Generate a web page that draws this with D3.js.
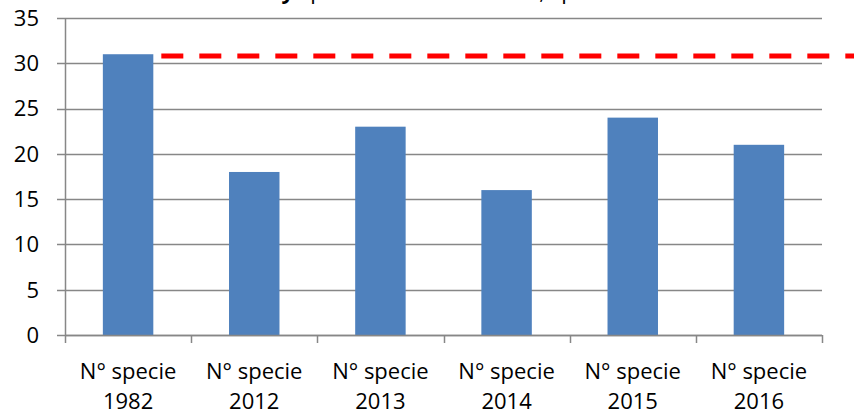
<!DOCTYPE html>
<html>
<head>
<meta charset="utf-8">
<script src="https://cdn.jsdelivr.net/npm/d3@7"></script>
<style>
  body { margin: 0; background: #fff; }
  svg { display: block; font-family: "Open Sans", sans-serif; }
</style>
</head>
<body>
<svg id="chart"></svg>
<script>
    var width = 854, height = 414;

    // data
    var categories = ["N° specie 1982", "N° specie 2012", "N° specie 2013", "N° specie 2014", "N° specie 2015", "N° specie 2016"];
    var values = [31, 18, 23, 16, 24, 21];
    var yTicks = [0, 5, 10, 15, 20, 25, 30, 35];
    var refValue = 30.8;   // red dashed reference line

    var margin = {top: 18, right: 32, bottom: 79, left: 65};

    var svg = d3.select("#chart")
        .attr("width", width)
        .attr("height", height);

    var x = d3.scaleBand()
        .domain(categories)
        .range([margin.left, width - margin.right])
        .padding(0);

    var y = d3.scaleLinear()
        .domain([0, 35])
        .range([height - margin.bottom, margin.top]);

    // title, mostly cut off at the top of the picture
    var title = svg.append("text")
        .attr("x", 163)
        .attr("y", -1)
        .style("font-size", "22px")
        .style("fill", "#000");
    title.append("tspan").style("font-weight", "bold").text("Biodiversity");
    title.append("tspan").text(" specie rilevate nell'area, specie");

    // gridlines + y axis ticks
    svg.append("g")
        .selectAll("line")
        .data(yTicks)
        .enter().append("line")
        .attr("x1", margin.left - 8)
        .attr("x2", width - margin.right)
        .attr("y1", d => Math.round(y(d)) + 0.5)
        .attr("y2", d => Math.round(y(d)) + 0.5)
        .attr("stroke", "#878787")
        .attr("stroke-width", 1.5);

    svg.append("g")
        .selectAll("text")
        .data(yTicks)
        .enter().append("text")
        .attr("x", 39)
        .attr("y", d => y(d))
        .attr("dy", "0.36em")
        .attr("text-anchor", "end")
        .style("font-size", "22px")
        .style("fill", "#000")
        .text(d => d);

    // y axis line
    svg.append("line")
        .attr("x1", margin.left + 0.5)
        .attr("x2", margin.left + 0.5)
        .attr("y1", y(35))
        .attr("y2", y(0))
        .attr("stroke", "#878787")
        .attr("stroke-width", 1.5);

    // bars
    var barW = x.bandwidth() * 0.4;
    svg.append("g")
        .selectAll("rect")
        .data(values)
        .enter().append("rect")
        .attr("x", (d, i) => x(categories[i]) + (x.bandwidth() - barW) / 2)
        .attr("y", d => y(d))
        .attr("width", barW)
        .attr("height", d => y(0) - y(d))
        .attr("fill", "#4F81BD");

    // x axis line and ticks
    svg.append("line")
        .attr("x1", margin.left)
        .attr("x2", width - margin.right)
        .attr("y1", Math.round(y(0)) + 0.5)
        .attr("y2", Math.round(y(0)) + 0.5)
        .attr("stroke", "#878787")
        .attr("stroke-width", 1.5);

    var bounds = categories.map(c => x(c)).concat([width - margin.right]);
    svg.append("g")
        .selectAll("line")
        .data(bounds)
        .enter().append("line")
        .attr("x1", d => Math.round(d) + 0.5)
        .attr("x2", d => Math.round(d) + 0.5)
        .attr("y1", y(0))
        .attr("y2", y(0) + 8)
        .attr("stroke", "#878787")
        .attr("stroke-width", 1.5);

    // category labels on two lines
    var labels = svg.append("g")
        .selectAll("text")
        .data(categories)
        .enter().append("text")
        .attr("text-anchor", "middle")
        .style("font-size", "22px")
        .style("fill", "#000");

    labels.append("tspan")
        .attr("x", d => x(d) + x.bandwidth() / 2)
        .attr("y", 379)
        .text(d => d.slice(0, d.lastIndexOf(" ")));
    labels.append("tspan")
        .attr("x", d => x(d) + x.bandwidth() / 2)
        .attr("y", 409)
        .text(d => d.slice(d.lastIndexOf(" ") + 1));

    // red dashed reference line
    svg.append("line")
        .attr("x1", x(categories[0]) + (x.bandwidth() + barW) / 2 + 8)
        .attr("x2", width)
        .attr("y1", y(refValue))
        .attr("y2", y(refValue))
        .attr("stroke", "#FF0000")
        .attr("stroke-width", 5)
        .attr("stroke-dasharray", "22,16");
</script>
</body>
</html>
